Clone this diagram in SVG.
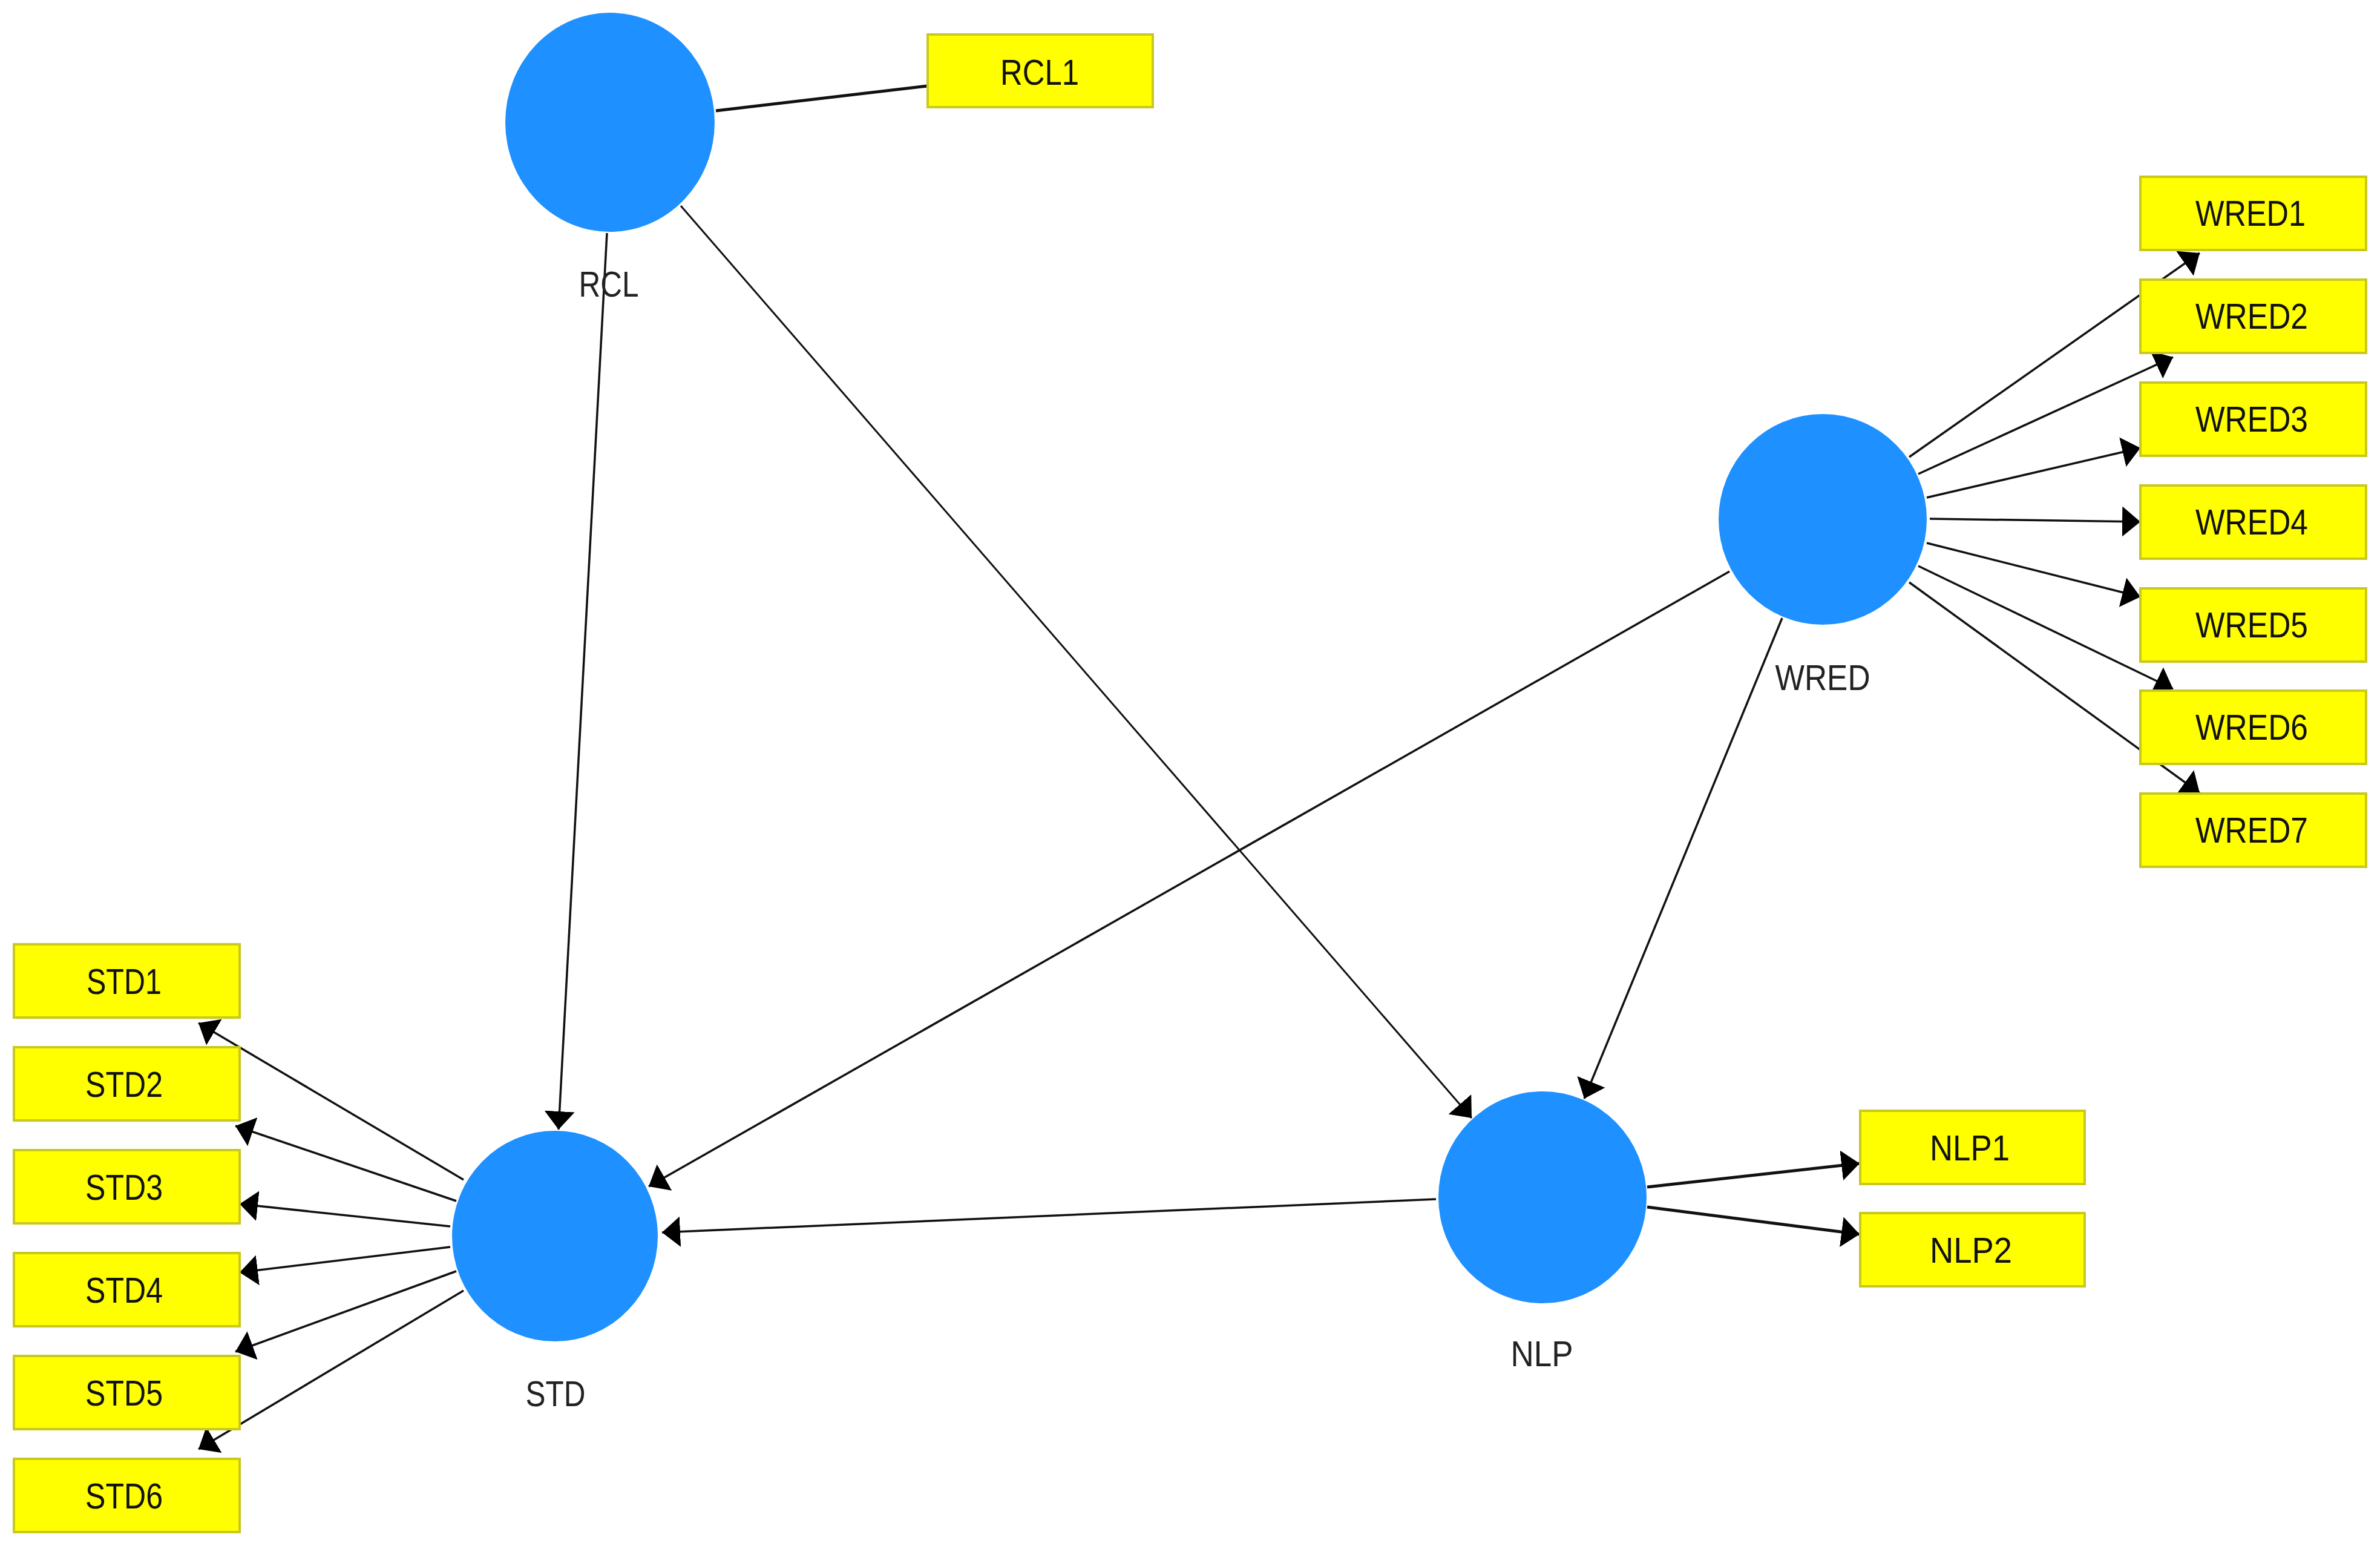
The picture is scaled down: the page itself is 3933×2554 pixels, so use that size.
<svg xmlns="http://www.w3.org/2000/svg" width="3933" height="2554" viewBox="0 0 3933 2554">
<style>
.lv{fill:#1E90FF}
.ind rect{fill:#FFFF00;stroke:#C8C81E;stroke-width:4}
text{font-family:"Liberation Sans Narrow","Liberation Sans",Arial,sans-serif;font-size:59px;text-anchor:middle}
.it{fill:#111}
.lt{fill:#222}
.c line{stroke:#111;stroke-width:3.5}
</style>
<defs>
<marker id="ah" markerUnits="userSpaceOnUse" markerWidth="30" markerHeight="50" viewBox="0 0 30 50" refX="30" refY="25" orient="auto"><path d="M0,0 L30,25 L0,50 z" fill="#000"/></marker>
</defs>
<rect width="3933" height="2554" fill="#fff"/>
<g id="connectors" class="c">
<line x1="1183" y1="183" x2="1533" y2="142" style="stroke-width:5"/>
<line x1="1003" y1="385" x2="923" y2="1866" marker-end="url(#ah)"/>
<line x1="1125" y1="340" x2="2432" y2="1847" marker-end="url(#ah)" style="stroke-width:3"/>
<line x1="2945" y1="1021" x2="2618" y2="1815" marker-end="url(#ah)"/>
<line x1="2858" y1="944" x2="1072" y2="1960" marker-end="url(#ah)"/>
<line x1="2373" y1="1981" x2="1094" y2="2036" marker-end="url(#ah)"/>
<line x1="2722" y1="1961" x2="3073" y2="1922" marker-end="url(#ah)" style="stroke-width:5"/>
<line x1="2722" y1="1994" x2="3073" y2="2039" marker-end="url(#ah)" style="stroke-width:5"/>
<line x1="766" y1="1949" x2="328" y2="1690" marker-end="url(#ah)"/>
<line x1="754" y1="1984" x2="389" y2="1860" marker-end="url(#ah)"/>
<line x1="744" y1="2026" x2="396" y2="1989" marker-end="url(#ah)"/>
<line x1="744" y1="2060" x2="396" y2="2102" marker-end="url(#ah)"/>
<line x1="754" y1="2100" x2="389" y2="2233" marker-end="url(#ah)"/>
<line x1="766" y1="2132" x2="328" y2="2394" marker-end="url(#ah)"/>
<line x1="3155" y1="755" x2="3635" y2="418" marker-end="url(#ah)"/>
<line x1="3170" y1="783" x2="3591" y2="590" marker-end="url(#ah)"/>
<line x1="3184" y1="822" x2="3537" y2="740" marker-end="url(#ah)"/>
<line x1="3189" y1="857" x2="3537" y2="862" marker-end="url(#ah)"/>
<line x1="3184" y1="897" x2="3537" y2="986" marker-end="url(#ah)"/>
<line x1="3170" y1="935" x2="3591" y2="1138" marker-end="url(#ah)"/>
<line x1="3155" y1="962" x2="3635" y2="1310" marker-end="url(#ah)"/>
</g>
<g id="RCL"><ellipse class="lv" cx="1008" cy="202" rx="173" ry="181"/><text class="lt" x="1006" y="490" textLength="99" lengthAdjust="spacingAndGlyphs">RCL</text></g>
<g id="STD"><ellipse class="lv" cx="917" cy="2042" rx="170" ry="174"/><text class="lt" x="918" y="2323" textLength="99" lengthAdjust="spacingAndGlyphs">STD</text></g>
<g id="WRED"><ellipse class="lv" cx="3012" cy="858" rx="172" ry="174"/><text class="lt" x="3012" y="1140" textLength="157" lengthAdjust="spacingAndGlyphs">WRED</text></g>
<g id="NLP"><ellipse class="lv" cx="2549" cy="1978" rx="172" ry="175"/><text class="lt" x="2548" y="2257" textLength="103" lengthAdjust="spacingAndGlyphs">NLP</text></g>
<g id="RCL1" class="ind"><rect x="1533" y="57" width="372" height="120"/><text class="it" x="1718" y="140" textLength="130" lengthAdjust="spacingAndGlyphs">RCL1</text></g>
<g id="STD1" class="ind"><rect x="23" y="1560" width="373" height="121"/><text class="it" x="205" y="1642" textLength="124" lengthAdjust="spacingAndGlyphs">STD1</text></g>
<g id="STD2" class="ind"><rect x="23" y="1730" width="373" height="121"/><text class="it" x="205" y="1812" textLength="128" lengthAdjust="spacingAndGlyphs">STD2</text></g>
<g id="STD3" class="ind"><rect x="23" y="1900" width="373" height="121"/><text class="it" x="205" y="1982" textLength="128" lengthAdjust="spacingAndGlyphs">STD3</text></g>
<g id="STD4" class="ind"><rect x="23" y="2070" width="373" height="121"/><text class="it" x="205" y="2152" textLength="128" lengthAdjust="spacingAndGlyphs">STD4</text></g>
<g id="STD5" class="ind"><rect x="23" y="2240" width="373" height="121"/><text class="it" x="205" y="2322" textLength="128" lengthAdjust="spacingAndGlyphs">STD5</text></g>
<g id="STD6" class="ind"><rect x="23" y="2410" width="373" height="121"/><text class="it" x="205" y="2492" textLength="128" lengthAdjust="spacingAndGlyphs">STD6</text></g>
<g id="WRED1" class="ind"><rect x="3537" y="292" width="373" height="121"/><text class="it" x="3719" y="373" textLength="182" lengthAdjust="spacingAndGlyphs">WRED1</text></g>
<g id="WRED2" class="ind"><rect x="3537" y="462" width="373" height="121"/><text class="it" x="3721" y="543" textLength="186" lengthAdjust="spacingAndGlyphs">WRED2</text></g>
<g id="WRED3" class="ind"><rect x="3537" y="632" width="373" height="121"/><text class="it" x="3721" y="713" textLength="186" lengthAdjust="spacingAndGlyphs">WRED3</text></g>
<g id="WRED4" class="ind"><rect x="3537" y="802" width="373" height="121"/><text class="it" x="3721" y="883" textLength="186" lengthAdjust="spacingAndGlyphs">WRED4</text></g>
<g id="WRED5" class="ind"><rect x="3537" y="972" width="373" height="121"/><text class="it" x="3721" y="1053" textLength="186" lengthAdjust="spacingAndGlyphs">WRED5</text></g>
<g id="WRED6" class="ind"><rect x="3537" y="1141" width="373" height="121"/><text class="it" x="3721" y="1222" textLength="186" lengthAdjust="spacingAndGlyphs">WRED6</text></g>
<g id="WRED7" class="ind"><rect x="3537" y="1311" width="373" height="121"/><text class="it" x="3721" y="1392" textLength="186" lengthAdjust="spacingAndGlyphs">WRED7</text></g>
<g id="NLP1" class="ind"><rect x="3074" y="1835" width="371" height="121"/><text class="it" x="3255" y="1917" textLength="132" lengthAdjust="spacingAndGlyphs">NLP1</text></g>
<g id="NLP2" class="ind"><rect x="3074" y="2004" width="371" height="121"/><text class="it" x="3257" y="2086" textLength="136" lengthAdjust="spacingAndGlyphs">NLP2</text></g>
</svg>
